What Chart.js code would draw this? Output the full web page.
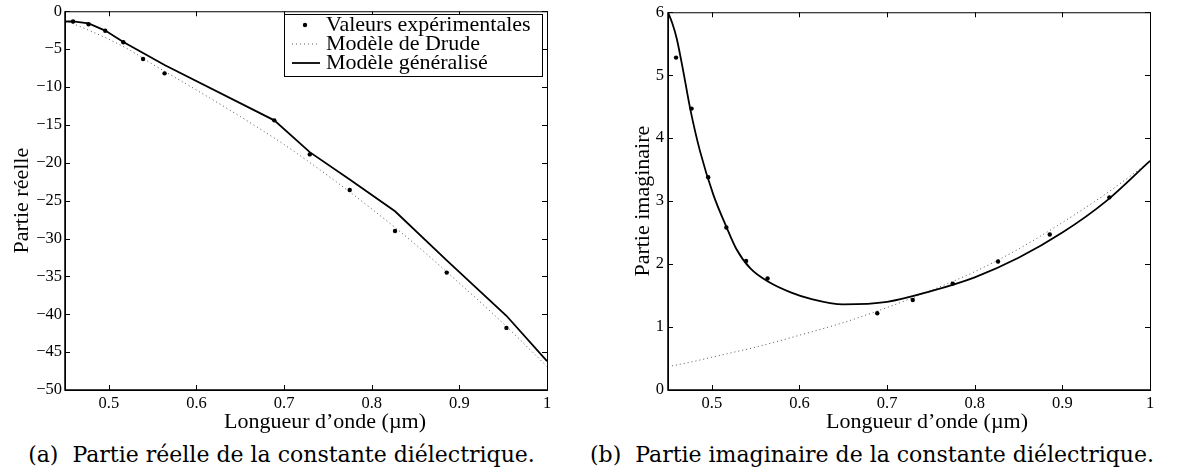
<!DOCTYPE html>
<html>
<head>
<meta charset="utf-8">
<script src="https://cdn.jsdelivr.net/npm/chart.js@4"></script>
<style>
  body { margin: 0; width: 1177px; height: 476px; background: #fff; position: relative; overflow: hidden; }
  .panel { position: absolute; top: 0; height: 440px; }
  .caption { position: absolute; top: 442px; font-family: "DejaVu Serif", serif; font-size: 22px; color: #000; white-space: nowrap; text-align: center; }
</style>
</head>
<body>
<div class="panel" style="left:0;width:580px"><canvas id="reel"></canvas></div>
<div class="panel" style="left:590px;width:587px"><canvas id="imag"></canvas></div>
<div class="caption" style="left:0;width:563px">(a)&nbsp; Partie réelle de la constante diélectrique.</div>
<div class="caption" style="left:590px;width:564px">(b)&nbsp; Partie imaginaire de la constante diélectrique.</div>
<script>
// longueurs d'onde (µm) des mesures
var expLambda = [0.4592, 0.4769, 0.4959, 0.5166, 0.5391, 0.5636, 0.6888, 0.7293, 0.7749, 0.8266, 0.8856, 0.9537];
var expReal = [-1.35, -1.71, -2.58, -4.1, -6.3, -8.2, -14.4, -18.9, -23.6, -29.0, -34.5, -41.8];
var expImag = [5.28, 4.47, 3.38, 2.58, 2.05, 1.77, 1.22, 1.43, 1.69, 2.04, 2.47, 3.06];

// modele de Drude
var drudeLambda = [0.45, 0.475, 0.5, 0.525, 0.55, 0.6, 0.65, 0.7, 0.75, 0.8, 0.85, 0.9, 0.95, 1.0];
var drudeReal = [-1.2, -2.4, -3.7, -5.2, -7.0, -10.4, -13.9, -17.6, -21.7, -26.1, -30.8, -35.9, -41.2, -46.9];
var drudeImag = [0.37, 0.44, 0.52, 0.6, 0.68, 0.87, 1.07, 1.31, 1.58, 1.88, 2.24, 2.66, 3.12, 3.63];

// modele generalise
var genRealLambda = [0.45, 0.4592, 0.4769, 0.4959, 0.5166, 0.5391, 0.5636, 0.6888, 0.7293, 0.7749, 0.8266, 0.8856, 0.9537, 1.0];
var genReal = [-1.35, -1.33, -1.6, -2.55, -4.05, -5.5, -7.1, -14.4, -18.6, -22.2, -26.4, -32.9, -40.2, -46.2];
var genImagLambda = [0.45, 0.455, 0.46, 0.4676, 0.4753, 0.4866, 0.5018, 0.517, 0.528, 0.544, 0.5656, 0.59, 0.612, 0.65, 0.7, 0.75, 0.8, 0.85, 0.9, 0.95, 1.0];
var genImag = [6.0, 5.82, 5.58, 5.05, 4.47, 3.79, 3.1, 2.58, 2.24, 1.93, 1.71, 1.55, 1.45, 1.36, 1.40, 1.57, 1.79, 2.1, 2.5, 3.0, 3.64];

// graduations
var xTicks = [0.5, 0.6, 0.7, 0.8, 0.9, 1];
var yTicksReal = [0, -5, -10, -15, -20, -25, -30, -35, -40, -45, -50];
var yTicksImag = [0, 1, 2, 3, 4, 5, 6];

var xTitle = "Longueur d\u2019onde (\u00b5m)";
var serif = "'Liberation Serif', 'Times New Roman', serif";

function pts(xs, ys) {
  return xs.map(function (x, i) { return { x: x, y: ys[i] }; });
}

function fmt(v) {
  return v < 0 ? "\u2212" + (-v) : String(v);
}

// cadre + graduations vers l'interieur + titres des axes
var framePlugin = {
  id: "frame",
  afterDraw: function (chart) {
    var o = chart.options.plugins.frame;
    var ctx = chart.ctx, a = chart.chartArea;
    var xs = chart.scales.x, ys = chart.scales.y;
    ctx.save();
    ctx.strokeStyle = "#000";
    ctx.lineWidth = 1;
    ctx.beginPath();
    xs.ticks.forEach(function (t) {
      var px = Math.round(xs.getPixelForValue(t.value)) + 0.5;
      ctx.moveTo(px, a.bottom); ctx.lineTo(px, a.bottom - 5);
      ctx.moveTo(px, a.top); ctx.lineTo(px, a.top + 5);
    });
    ys.ticks.forEach(function (t) {
      var py = Math.round(ys.getPixelForValue(t.value)) + 0.5;
      ctx.moveTo(a.left, py); ctx.lineTo(a.left + 5, py);
      ctx.moveTo(a.right, py); ctx.lineTo(a.right - 5, py);
    });
    ctx.stroke();
    ctx.strokeRect(a.left + 0.5, a.top + 0.5, a.right - a.left, a.bottom - a.top);
    ctx.lineWidth = 1.5;
    ctx.beginPath();
    ctx.moveTo(a.left, a.top); ctx.lineTo(a.left, a.bottom); ctx.lineTo(a.right + 1, a.bottom);
    ctx.stroke();

    ctx.fillStyle = "#000";
    ctx.font = "22px " + serif;
    ctx.textAlign = "center";
    ctx.textBaseline = "alphabetic";
    ctx.fillText(xTitle, o.xTitleX, 428);
    ctx.translate(o.yTitleX, (a.top + a.bottom) / 2);
    ctx.rotate(-Math.PI / 2);
    ctx.textBaseline = "middle";
    ctx.fillText(o.yTitle, 0, 0);
    ctx.restore();
  }
};

// legende encadree dans le graphe (a)
var boxLegend = {
  id: "boxLegend",
  afterDraw: function (chart) {
    if (!chart.options.plugins.boxLegend.show) return;
    var ctx = chart.ctx;
    var ds = chart.data.datasets;
    var left = 284.5, top = 14.5, right = 542.5, bottom = 76.5;
    ctx.save();
    ctx.fillStyle = "#fff";
    ctx.fillRect(left, top, right - left, bottom - top);
    ctx.strokeStyle = "#000";
    ctx.lineWidth = 1;
    ctx.strokeRect(left, top, right - left, bottom - top);
    var rows = [25, 44, 63];
    ds.forEach(function (d, i) {
      var y = rows[i];
      if (d.showLine === false) {
        ctx.fillStyle = "#000";
        ctx.beginPath();
        ctx.arc(305, y, 2.2, 0, Math.PI * 2);
        ctx.fill();
      } else {
        ctx.strokeStyle = d.borderColor;
        ctx.lineWidth = d.borderWidth;
        ctx.setLineDash(d.borderDash || []);
        ctx.beginPath();
        ctx.moveTo(292, y); ctx.lineTo(320, y);
        ctx.stroke();
        ctx.setLineDash([]);
      }
      ctx.fillStyle = "#000";
      ctx.font = "22px " + serif;
      ctx.textAlign = "left";
      ctx.textBaseline = "middle";
      ctx.fillText(d.label, 326, y);
    });
    ctx.restore();
  }
};

function makeChart(id, datasets, yTicks, yMin, yMax, o) {
  var tickFont = { family: serif, size: 16.5, lineHeight: 1 };
  return new Chart(document.getElementById(id), {
    type: "line",
    data: { datasets: datasets },
    options: {
      responsive: true,
      maintainAspectRatio: false,
      animation: false,
      layout: { padding: { top: o.top, right: o.right, left: 0, bottom: 0 } },
      plugins: {
        legend: { display: false },
        tooltip: { enabled: false },
        frame: { xTitleX: o.xTitleX, yTitleX: o.yTitleX, yTitle: o.yTitle },
        boxLegend: { show: o.legend }
      },
      scales: {
        x: {
          type: "linear",
          min: 0.45,
          max: 1,
          grid: { display: false, drawTicks: false },
          border: { display: false },
          ticks: { font: tickFont, color: "#000", padding: 5, maxRotation: 0, autoSkip: false, callback: fmt },
          afterBuildTicks: function (s) { s.ticks = xTicks.map(function (v) { return { value: v }; }); },
          afterFit: function (s) { s.height = 50; }
        },
        y: {
          type: "linear",
          min: yMin,
          max: yMax,
          grid: { display: false, drawTicks: false },
          border: { display: false },
          ticks: { font: tickFont, color: "#000", padding: o.tickPad, autoSkip: false, callback: fmt },
          afterBuildTicks: function (s) { s.ticks = yTicks.map(function (v) { return { value: v }; }); },
          afterFit: function (s) { s.width = o.axisWidth; }
        }
      }
    },
    plugins: [framePlugin, boxLegend]
  });
}

function series(lx, ly, dx, dy, gx, gy, smooth) {
  return [
    {
      label: "Valeurs expérimentales",
      data: pts(lx, ly),
      showLine: false,
      pointRadius: 2.2,
      pointBackgroundColor: "#000",
      pointBorderWidth: 0,
      borderColor: "#000",
      order: 0
    },
    {
      label: "Modèle de Drude",
      data: pts(dx, dy),
      borderColor: "#555",
      borderWidth: 1,
      borderDash: [1, 3],
      pointRadius: 0,
      cubicInterpolationMode: "monotone",
      order: 2
    },
    {
      label: "Modèle généralisé",
      data: pts(gx, gy),
      borderColor: "#000",
      borderWidth: 1.8,
      pointRadius: 0,
      cubicInterpolationMode: smooth ? "monotone" : "default",
      tension: 0,
      order: 1
    }
  ];
}

makeChart("reel",
  series(expLambda, expReal, drudeLambda, drudeReal, genRealLambda, genReal, false),
  yTicksReal, -50, 0,
  { top: 9, right: 33, axisWidth: 65, tickPad: 3, xTitleX: 325, yTitleX: 22, yTitle: "Partie réelle", legend: true });

makeChart("imag",
  series(expLambda, expImag, drudeLambda, drudeImag, genImagLambda, genImag, true),
  yTicksImag, 0, 6,
  { top: 10, right: 27, axisWidth: 78, tickPad: 4, xTitleX: 337, yTitleX: 53, yTitle: "Partie imaginaire", legend: false });
</script>
</body>
</html>
